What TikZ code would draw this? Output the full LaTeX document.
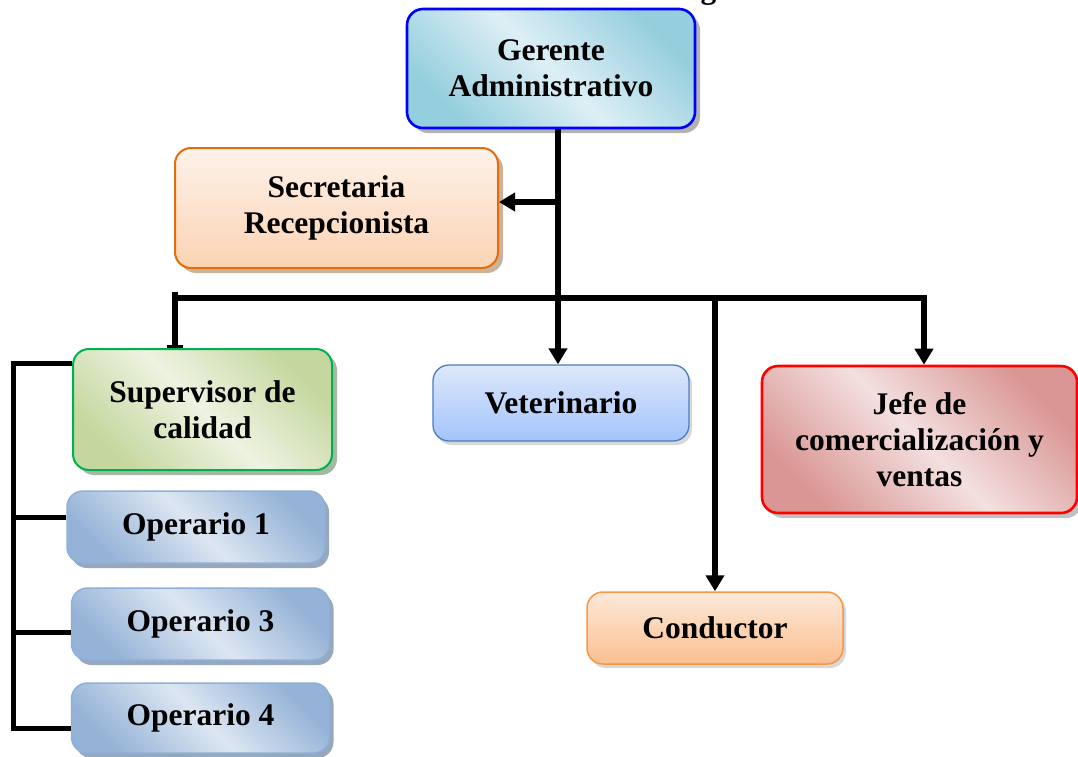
\documentclass[tikz,border=0pt]{standalone}
\usepackage{fontspec}
\setmainfont{Liberation Serif}
\usetikzlibrary{arrows.meta,shadows}
\definecolor{gerL}{HTML}{DDEFF5}
\definecolor{gerD}{HTML}{95CEDD}
\definecolor{secL}{HTML}{FEF2EA}
\definecolor{secD}{HTML}{FBD3B3}
\definecolor{secB}{HTML}{E46C0A}
\definecolor{supL}{HTML}{EEF3E2}
\definecolor{supD}{HTML}{C4D79E}
\definecolor{supB}{HTML}{00B050}
\definecolor{vetL}{HTML}{DDE8FB}
\definecolor{vetD}{HTML}{A3C4FC}
\definecolor{vetB}{HTML}{4A7EBB}
\definecolor{jefL}{HTML}{F3E0DF}
\definecolor{jefD}{HTML}{D99694}
\definecolor{conL}{HTML}{FDE9DA}
\definecolor{conD}{HTML}{FABF8F}
\definecolor{conB}{HTML}{F79646}
\definecolor{opL}{HTML}{DCE6F2}
\definecolor{opD}{HTML}{95B3D7}
\definecolor{opB}{HTML}{8EAFD9}
\definecolor{opS}{HTML}{8C9DB5}
\tikzset{
  orgbox/.style={rounded corners=16pt, align=center, inner sep=0pt,
    font=\fontsize{31.5}{36}\selectfont\bfseries, line width=1.6pt},
  diag/.style 2 args={left color=#2, right color=#2, middle color=#1, shading angle=135},
  conn/.style={line width=6pt, black},
  arr/.style={line width=6pt, black, -{Triangle[width=18pt,length=16pt]}},
  brk/.style={line width=5pt, black},
}
\begin{document}
\begin{tikzpicture}[x=1pt,y=-1pt]
\useasboundingbox (0,0) rectangle (1078,756);
\clip (0,0) rectangle (1078,756);
% title (cut off at the top, as in the reference)
\node[anchor=base, inner sep=0pt, font=\fontsize{31.5}{36}\selectfont\bfseries] (title) at (611,-1.5) {Gráfico: Estructura Organizativa};
% boxes
\node[orgbox, draw=blue, line width=2.6pt, minimum width=288pt, minimum height=119pt,
  diag={gerL}{gerD},
  drop shadow={shadow xshift=5pt, shadow yshift=-5pt, fill=gray!75, opacity=0.8}]
  (ger) at (551,68.5) {Gerente\\Administrativo};
\node[orgbox, draw=secB, line width=2pt, minimum width=323pt, minimum height=120pt,
  top color=secL, bottom color=secD,
  drop shadow={shadow xshift=5pt, shadow yshift=-5pt, fill=brown!60!gray, opacity=0.6}]
  (sec) at (336.5,208) {Secretaria\\Recepcionista};
\node[orgbox, draw=supB, line width=2pt, minimum width=259pt, minimum height=121pt,
  diag={supL}{supD},
  drop shadow={shadow xshift=5pt, shadow yshift=-5pt, fill=gray!70!green!60!black, opacity=0.45}]
  (sup) at (202.5,409.5) {Supervisor de\\calidad};
\node[orgbox, draw=vetB, line width=1.3pt, minimum width=256pt, minimum height=76pt,
  top color=vetL, bottom color=vetD,
  drop shadow={shadow xshift=3pt, shadow yshift=-4pt, fill=gray!60, opacity=0.5}]
  (vet) at (561,403) {Veterinario};
\node[orgbox, draw=red, line width=2.6pt, minimum width=315pt, minimum height=147pt,
  diag={jefL}{jefD},
  drop shadow={shadow xshift=5pt, shadow yshift=-5pt, fill=gray!70, opacity=0.7}]
  (jef) at (919.5,439.5) {Jefe de\\comercialización y\\ventas};
\node[orgbox, draw=conB, line width=1.5pt, minimum width=256pt, minimum height=72pt,
  top color=conL, bottom color=conD,
  drop shadow={shadow xshift=3pt, shadow yshift=-4pt, fill=gray!60, opacity=0.5}]
  (con) at (715,628) {Conductor};
\tikzset{opbox/.style={orgbox, draw=opB, line width=1.5pt, minimum width=258pt,
  diag={opL}{opD},
  drop shadow={shadow xshift=4pt, shadow yshift=-5pt, fill=opS, opacity=0.9}}}
\node[opbox, minimum height=72pt] (op1) at (196,527) {Operario 1};
\node[opbox, minimum height=72pt] (op3) at (200.5,624) {Operario 3};
\node[opbox, minimum height=70pt] (op4) at (200.5,718) {Operario 4};
% connectors
\coordinate (j1) at (558,298);
\coordinate (s1) at (558,202);
\coordinate (hl) at (178,298);
\coordinate (hr) at (924,298);
\coordinate (c1) at (715,298);
\coordinate (sv) at (175,292);
\draw[conn] (ger.south -| j1) -- (j1);
\draw[arr] (s1) -- (s1 -| sec.east);
\draw[conn, line join=miter] (hl) -- (hr) -- ([yshift=-2pt]hr);
\draw[arr] (hr) -- (hr |- jef.north);
\draw[arr] (j1) -- (j1 |- vet.north);
\draw[arr] (c1) -- (c1 |- con.north);
\draw[conn, -{Bar[width=16pt,line width=3pt]}] (sv) -- (sv |- sup.north);
% left bracket
\coordinate (b0) at (13,363);
\coordinate (b1) at (13,517);
\coordinate (b3) at (13,632);
\coordinate (b4) at (13,728);
\draw[brk, line join=miter] (sup.west |- b0) -- (b0) -- (b4) -- (b4 -| op4.west);
\draw[brk] (b1) -- (b1 -| op1.west);
\draw[brk] (b3) -- (b3 -| op3.west);
\end{tikzpicture}
\end{document}
